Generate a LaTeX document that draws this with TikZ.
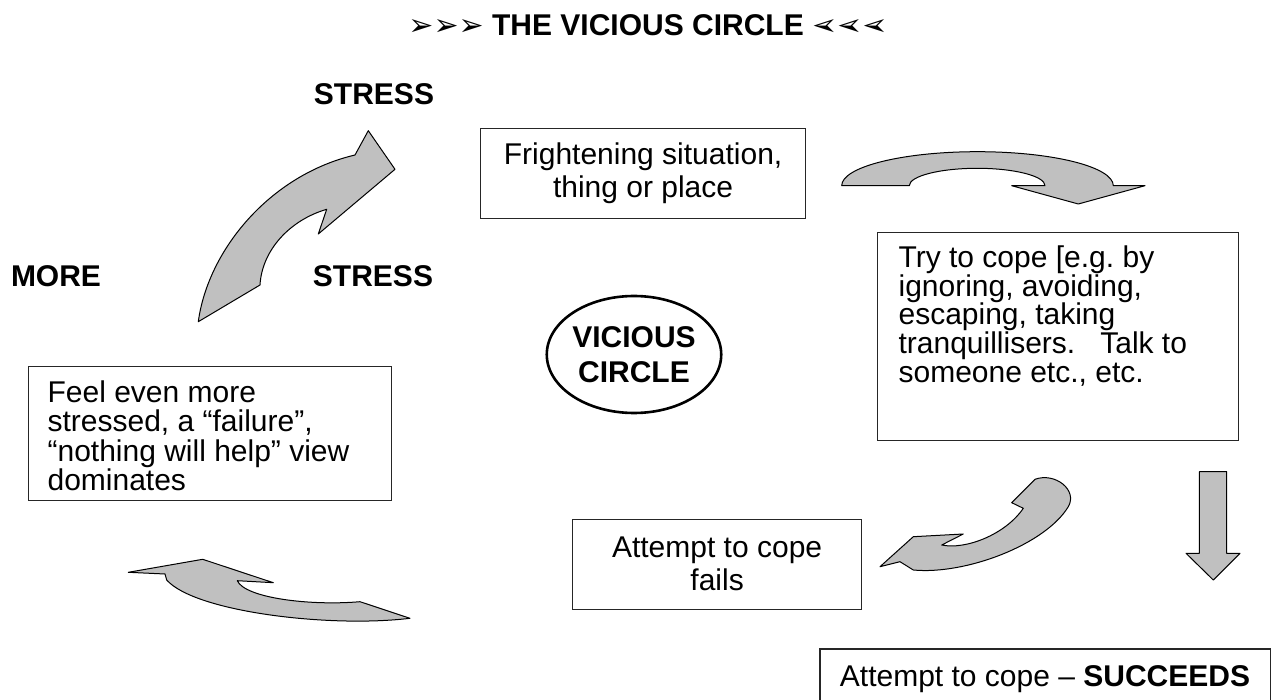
\documentclass[tikz,border=0pt]{standalone}
\usepackage{fontspec}
\setmainfont{Liberation Sans}
\newfontfamily\dej{DejaVu Sans}
\usepackage{graphicx}
\usetikzlibrary{shapes.geometric}
\definecolor{arrowgray}{RGB}{192,192,192}
\newcommand\bodyfont{\fontsize{15pt}{15pt}\selectfont}
\frenchspacing
\tikzset{
  bigarrow/.style={fill=arrowgray, draw=black, line width=0.5pt, line join=round},
  tbox/.style={draw=black!85, line width=0.6pt, anchor=north west, inner ysep=0pt},
  lbl/.style={anchor=base, font=\bfseries\bodyfont, inner sep=0pt},
}
\begin{document}
\begin{tikzpicture}[x=0.5pt,y=-0.5pt]
\useasboundingbox (0,0) rectangle (1271,700);
\clip (0,0) rectangle (1271,700);

% title
\node[lbl] (title) at (648,36) {{\dej ➢➢➢}\ THE VICIOUS CIRCLE\ \reflectbox{\dej ➢➢➢}};

% labels
\node[lbl] (stress1) at (374,105) {STRESS};
\node[lbl] (more) at (56,286.7) {MORE};
\node[lbl] (stress2) at (373,286.7) {STRESS};

% boxes
\node[tbox, inner xsep=0pt] (fright) at (480,128)
  {\parbox[t][45pt][t]{162.5pt}{\fontsize{15pt}{16.5pt}\selectfont\centering\rule{0pt}{18pt}Frightening situation,\\ thing or place}};

\node[tbox, inner xsep=10.5pt] (cope) at (877,232)
  {\parbox[t][104pt][t]{159.5pt}{\fontsize{15pt}{14.35pt}\selectfont\raggedright\rule{0pt}{17.5pt}Try to cope [e.g. by\\ ignoring, avoiding,\\ escaping, taking\\ tranquillisers.\ \ \ Talk to\\ someone etc., etc.}};

\node[tbox, inner xsep=9.5pt] (feel) at (28,366)
  {\parbox[t][67pt][t]{162.5pt}{\fontsize{15pt}{14.75pt}\selectfont\raggedright\rule{0pt}{17.85pt}Feel even more\\ stressed, a “failure”,\\ “nothing will help” view\\ dominates}};

\node[tbox, inner xsep=0pt] (fails) at (572,519.3)
  {\parbox[t][45pt][t]{144.5pt}{\fontsize{15pt}{16.65pt}\selectfont\centering\rule{0pt}{18.7pt}Attempt to cope\\ fails}};

\node[tbox, inner xsep=0pt] (succ) at (819.3,648.3)
  {\parbox[t][30pt][t]{225.5pt}{\fontsize{15pt}{15pt}\selectfont\raggedright\rule{0pt}{18.85pt}\hspace*{10pt}Attempt to cope – \textbf{SUCCEEDS}}};

% ellipse
\node[ellipse, draw=black, line width=1.3pt, minimum width=84.5pt, minimum height=58.5pt,
      inner sep=0pt, align=center, font=\bfseries\fontsize{15pt}{17.5pt}\selectfont] (vc) at (634,354.5)
  {VICIOUS\\CIRCLE};

% block arrows
% top-left curved arrow (more stress -> stress)
\draw[bigarrow] (198.3,321.7) .. controls (208,250) and (270,175) .. (355,155)
  -- (368.3,130.7) -- (395,169.3) -- (318.3,234) -- (326.7,209.3)
  .. controls (290,220) and (262,250) .. (260,285) -- cycle;

% top-right curved arrow
\draw[bigarrow] (841.7,185.7) .. controls (841.7,166.9) and (902.5,151.7) .. (977.5,151.7)
  .. controls (1052.5,151.7) and (1113.3,166.9) .. (1113.3,185.7)
  -- (1145,185.7) -- (1078.3,204) -- (1011.7,185.7) -- (1045,185.7)
  .. controls (1045,176.1) and (1014.6,168.3) .. (977.2,168.3)
  .. controls (939.8,168.3) and (909.3,176.1) .. (909.3,185.7) -- cycle;

% down arrow
\draw[bigarrow] (1199.3,471.7) -- (1226.7,471.7) -- (1226.7,553.3) -- (1240,553.3)
  -- (1213.3,580) -- (1186,553.3) -- (1199.3,553.3) -- cycle;

% lower-right hook arrow
\draw[bigarrow] (880,566.7) -- (913.3,536.7) -- (963.3,534) -- (941.7,545)
  .. controls (965,550) and (1005,535) .. (1023.3,508.3) -- (1011.7,502.7) -- (1035,479.3)
  .. controls (1055,472) and (1078,490) .. (1068.3,506.7)
  .. controls (1045,545) and (965,575) .. (913.3,570) -- (900,561.7) -- cycle;

% lower-left curved arrow
\draw[bigarrow] (128.3,572.3) -- (202.7,559.3) -- (273.3,582.7) -- (237.3,580.7)
  .. controls (245,598) and (310,606) .. (360,601.7) -- (410,618.3)
  .. controls (330,628) and (195,612) .. (166.7,580) -- (165,574) -- cycle;
\end{tikzpicture}
\end{document}
